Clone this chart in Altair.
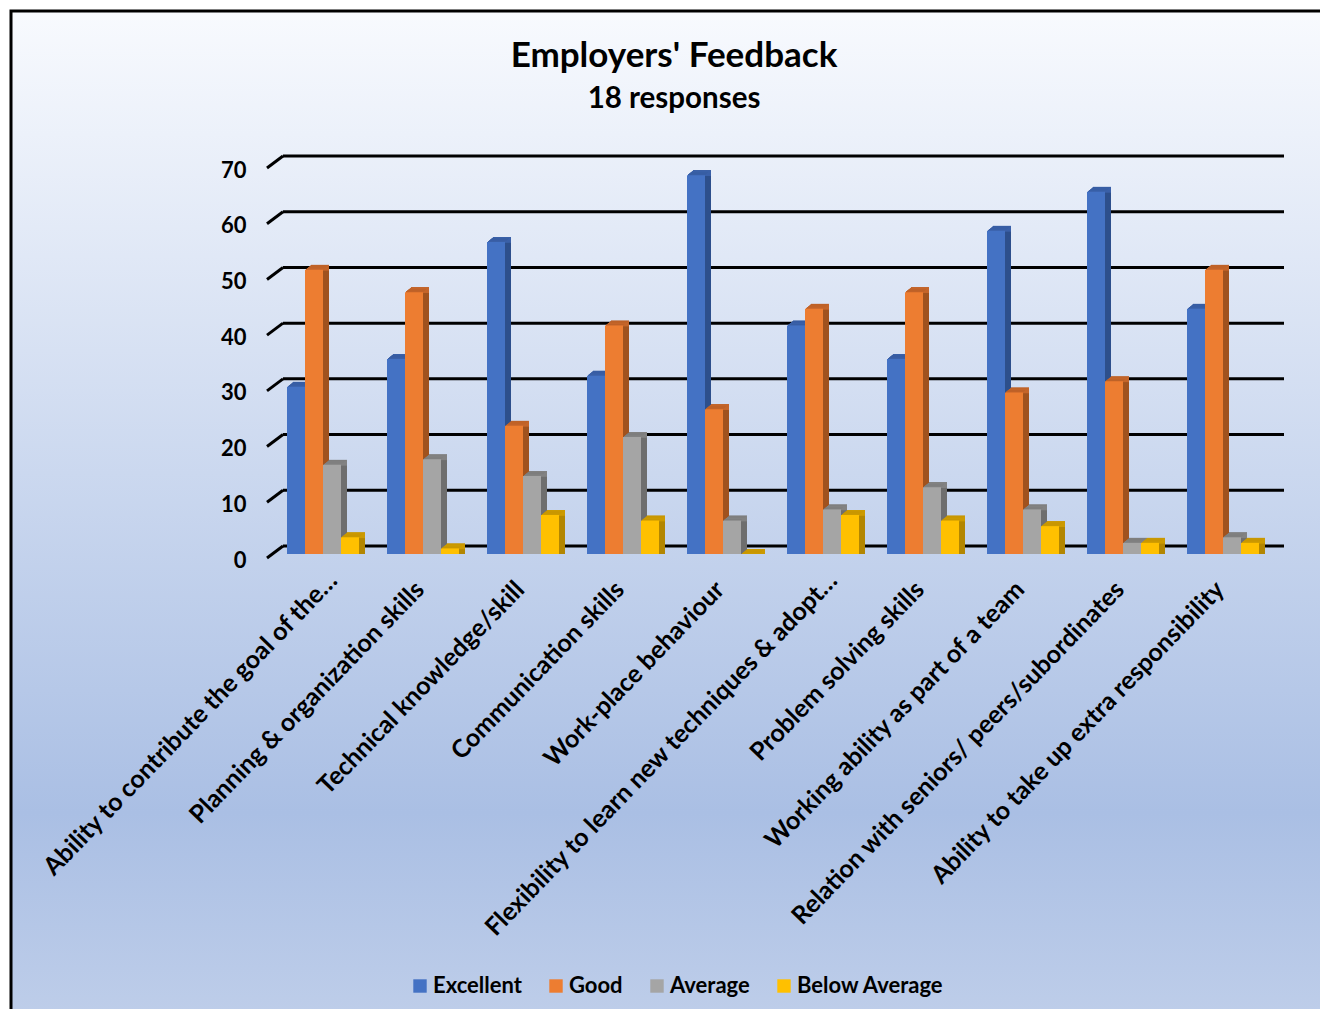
import altair as alt
import pandas as pd

categories = [
    "Ability to contribute the goal of the…",
    "Planning & organization skills",
    "Technical knowledge/skill",
    "Communication skills",
    "Work-place behaviour",
    "Flexibility to learn new techniques & adopt…",
    "Problem solving skills",
    "Working ability as part of a team",
    "Relation with seniors/ peers/subordinates",
    "Ability to take up extra responsibility",
]
series_names = ["Excellent", "Good", "Average", "Below Average"]
excellent = [30, 35, 56, 32, 68, 41, 35, 58, 65, 44]
good = [51, 47, 23, 41, 26, 44, 47, 29, 31, 51]
average = [16, 17, 14, 21, 6, 8, 12, 8, 2, 3]
below = [3, 1, 7, 6, 0, 7, 6, 5, 2, 2]
front_colors = ["#4472C4", "#ED7D31", "#A5A5A5", "#FFC000"]
side_colors = ["#2D4F8C", "#A0521E", "#6E6E6E", "#B38600"]
top_colors = ["#3A60A8", "#C4652A", "#828282", "#CC9A00"]
y_ticks = [0, 10, 20, 30, 40, 50, 60, 70]
title_lines = [{"text": "Employers' Feedback"}]
subtitle_lines = [{"text": "18 responses"}]

FONT = "Lato"
PX = 390 / 70  # pixels per value unit
BAR = 18       # bar width in pixels

rows = []
for i, (name, vals) in enumerate(zip(series_names, [excellent, good, average, below])):
    for c, v in zip(categories, vals):
        rows.append({"cat": c, "series": name, "v": v,
                     "t1": v + 0.04, "t0": max(v - 0.15, 0),
                     "base": (i + 0.5) * BAR})
df = pd.DataFrame(rows)
grid_df = pd.DataFrame({"tick": y_ticks})
grid_df["back"] = grid_df["tick"] + 8 / PX
grid_df["front"] = grid_df["tick"] - 4 / PX

yscale = alt.Scale(domain=[0, 70], nice=False, zero=False)
xscale = alt.Scale(domain=categories, paddingInner=0.28, paddingOuter=0.14)
oscale = alt.Scale(domain=[0, 100], range=[0, 100], nice=False, zero=False)
cscale = alt.Scale(domain=series_names, range=front_colors)

y_axis = alt.Axis(
    values=y_ticks, ticks=False, domain=False, grid=False, zindex=1,
    labelFont=FONT, labelFontSize=22, labelFontWeight="bold", labelColor="black",
    labelPadding=27, labelOffset=6,
)
x_axis = alt.Axis(
    ticks=False, domain=False, grid=False, zindex=1, labelAngle=-46,
    labelFont=FONT, labelFontSize=25, labelFontWeight="bold", labelColor="black",
    labelLimit=700, labelAlign="right", labelBaseline="middle",
    labelPadding={"condition": {"test": "indexof(datum.label, '…') >= 0", "value": 22}, "value": 31},
    labelOffset={"condition": {"test": "indexof(datum.label, '…') >= 0", "value": 10}, "value": -3},
)


def Y(field):
    return alt.Y(field, scale=yscale, title=None, axis=y_axis)


X_band = alt.X("cat:N", scale=xscale, title=None, axis=x_axis)


def Off(field):
    return alt.XOffset(field, type="quantitative", scale=oscale)


bg = alt.Chart(alt.Data(values=[{"a": 1}])).mark_rect(
    color=alt.LinearGradient(
        gradient="linear", x1=0, x2=0, y1=0, y2=1,
        stops=[
            alt.GradientStop(offset=0, color="#F8FAFE"),
            alt.GradientStop(offset=0.78, color="#AABFE4"),
            alt.GradientStop(offset=1, color="#C0CFEA"),
        ],
    ),
    stroke="black", strokeWidth=3,
).encode(
    x=alt.value(-262), x2=alt.value(1075),
    y=alt.value(-153), y2=alt.value(875),
)
title_text = alt.Chart(alt.Data(values=title_lines)).mark_text(
    font=FONT, fontSize=35, fontWeight="bold", color="black", align="center", baseline="middle",
).encode(text="text:N", x=alt.value(401), y=alt.value(-108))
subtitle_text = alt.Chart(alt.Data(values=subtitle_lines)).mark_text(
    font=FONT, fontSize=29.5, fontWeight="bold", color="black", align="center", baseline="middle",
).encode(text="text:N", x=alt.value(401), y=alt.value(-65))

grid = alt.Chart(grid_df).mark_rule(color="black", strokeWidth=3).encode(
    x=alt.value(10), x2=alt.value(1011),
    y=Y("back:Q"),
)
slant = alt.Chart(grid_df).mark_rule(color="black", strokeWidth=3).encode(
    x=alt.value(-6), x2=alt.value(10),
    y=Y("front:Q"),
    y2=alt.Y2("back:Q"),
)

layers = [bg, title_text, subtitle_text, grid, slant]
for i, name in enumerate(series_names):
    sub = alt.Chart(df).transform_filter(alt.datum.series == name)
    for k in range(6, 0, -1):
        shifted = sub.transform_calculate(off=f"datum.base + {k}")
        layers.append(shifted.mark_bar(color=side_colors[i], width=BAR, yOffset=-0.8 * k).encode(
            x=X_band, xOffset=Off("off"),
            y=Y("v:Q"),
            y2=alt.Y2(datum=0),
        ))
        layers.append(shifted.mark_bar(color=top_colors[i], width=BAR, yOffset=-0.8 * k).encode(
            x=X_band, xOffset=Off("off"),
            y=Y("t1:Q"),
            y2=alt.Y2("t0:Q"),
        ))
    layers.append(sub.mark_bar(width=BAR).encode(
        x=X_band, xOffset=Off("base"),
        y=Y("v:Q"),
        y2=alt.Y2(datum=0),
        color=alt.Color("series:N", scale=cscale, title=None, legend=alt.Legend(
            orient="none", legendX=136, legendY=811, direction="horizontal",
            columns=4, symbolType="square", symbolSize=180, symbolStrokeWidth=0,
            labelFont=FONT, labelFontSize=22, labelFontWeight="bold", labelColor="black",
            labelOffset=2, columnPadding=23, padding=0, labelLimit=300,
        )),
    ))

chart = alt.layer(*layers).resolve_scale(x="shared", y="shared").properties(
    width=1000, height=390,
    autosize=alt.AutoSizeParams(type="none"),
    padding={"left": 265, "top": 156, "right": 47, "bottom": 455},
).configure_view(stroke=None)

chart.save("out.html", embed_options={"renderer": "svg", "actions": False})
